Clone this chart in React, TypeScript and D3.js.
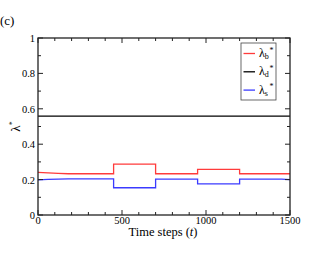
import { useEffect, useRef } from "react";
import * as d3 from "d3";

// step series
const timeB = [0, 60, 120, 180, 450, 450, 700, 700, 950, 950, 1200, 1200, 1500];
const lambdaB = [0.241, 0.238, 0.235, 0.233, 0.233, 0.287, 0.287, 0.233, 0.233, 0.258, 0.258, 0.233, 0.233];

const timeD = [0, 1500];
const lambdaD = [0.559, 0.559];

const timeS = [0, 60, 120, 180, 450, 450, 700, 700, 950, 950, 1200, 1200, 1450, 1500];
const lambdaS = [0.198, 0.201, 0.203, 0.204, 0.204, 0.154, 0.154, 0.203, 0.203, 0.176, 0.176, 0.203, 0.203, 0.2];

const xMajor = [0, 500, 1000, 1500];
const yMajor = [0, 0.2, 0.4, 0.6, 0.8, 1];
const yLabels = ["0", "0.2", "0.4", "0.6", "0.8", "1"];

const legendSubs = ["b", "d", "s"];
const seriesColors = ["#ff3b3b", "#000000", "#3b3bff"];

export default function App() {
  const ref = useRef<SVGSVGElement | null>(null);

  useEffect(() => {
    const svg = d3.select(ref.current);
    svg.selectAll("*").remove();
    const W = 329, H = 254;
    const m = { l: 38, r: 39, t: 38, b: 39 };
    svg.attr("viewBox", `0 0 ${W} ${H}`);

    const x = d3.scaleLinear().domain([0, 1500]).range([m.l, W - m.r]);
    const y = d3.scaleLinear().domain([0, 1]).range([H - m.b, m.t]);
    const font = "'Liberation Serif', 'Times New Roman', serif";

    svg.append("rect").attr("width", W).attr("height", H).attr("fill", "white");

    const series = [
      { t: timeB, v: lambdaB },
      { t: timeD, v: lambdaD },
      { t: timeS, v: lambdaS }
    ];
    const line = d3.line<[number, number]>().x(d => x(d[0])).y(d => y(d[1]));
    series.forEach((s, i) => {
      svg.append("path")
        .datum(s.t.map((t, j) => [t, s.v[j]] as [number, number]))
        .attr("d", line)
        .attr("fill", "none")
        .attr("stroke", seriesColors[i])
        .attr("stroke-width", 1.3);
    });

    // frame
    const frameColor = "#222";
    svg.append("rect")
      .attr("x", x(0)).attr("y", y(1))
      .attr("width", x(1500) - x(0)).attr("height", y(0) - y(1))
      .attr("fill", "none").attr("stroke", frameColor).attr("stroke-width", 1.3);

    // ticks, inward, on all four sides
    const xMinor = d3.range(0, 1501, 100);
    const yMinor = d3.range(0, 1.001, 0.1);
    const tk = svg.append("g").attr("stroke", frameColor).attr("stroke-width", 1);
    xMinor.forEach(v => {
      const len = xMajor.includes(v) ? 5 : 3;
      tk.append("line").attr("x1", x(v)).attr("x2", x(v)).attr("y1", y(0)).attr("y2", y(0) - len);
      tk.append("line").attr("x1", x(v)).attr("x2", x(v)).attr("y1", y(1)).attr("y2", y(1) + len);
    });
    yMinor.forEach(v => {
      const major = Math.abs(v * 5 - Math.round(v * 5)) < 1e-6;
      const len = major ? 5 : 3;
      tk.append("line").attr("x1", x(0)).attr("x2", x(0) + len).attr("y1", y(v)).attr("y2", y(v));
      tk.append("line").attr("x1", x(1500)).attr("x2", x(1500) - len).attr("y1", y(v)).attr("y2", y(v));
    });

    const tl = svg.append("g").attr("font-family", font).attr("font-size", 10.5).attr("fill", "#000");
    xMajor.forEach(v => {
      tl.append("text").attr("x", x(v)).attr("y", y(0) + 8.5).attr("text-anchor", "middle").text(String(v));
    });
    yMajor.forEach((v, i) => {
      tl.append("text").attr("x", x(0) - 3).attr("y", y(v) + 4).attr("text-anchor", "end").text(yLabels[i]);
    });

    // axis titles
    const xt = svg.append("text")
      .attr("x", (x(0) + x(1500)) / 2 - 1).attr("y", 236)
      .attr("text-anchor", "middle")
      .attr("font-family", font).attr("font-size", 12.5);
    xt.append("tspan").text("Time steps (");
    xt.append("tspan").attr("font-style", "italic").text("t");
    xt.append("tspan").text(")");

    const yt = svg.append("text")
      .attr("transform", `translate(20,${(y(0) + y(1)) / 2}) rotate(-90)`)
      .attr("text-anchor", "middle")
      .attr("font-family", font).attr("font-size", 13);
    yt.append("tspan").text("λ");
    yt.append("tspan").attr("font-size", 8).attr("dy", -5).text("*");

    svg.append("text").attr("x", 0).attr("y", 25)
      .attr("font-family", font).attr("font-size", 13).text("(c)");

    // legend
    const lg = svg.append("g").attr("font-family", font);
    lg.append("rect").attr("x", 241).attr("y", 43).attr("width", 35).attr("height", 57)
      .attr("fill", "white").attr("stroke", "#444").attr("stroke-width", 0.8);
    legendSubs.forEach((s, i) => {
      const ly = 53.5 + i * 18.3;
      lg.append("line").attr("x1", 243.5).attr("x2", 255).attr("y1", ly).attr("y2", ly)
        .attr("stroke", seriesColors[i]).attr("stroke-width", 1.3);
      const t = lg.append("text").attr("x", 259).attr("y", ly + 3.5).attr("font-size", 12);
      t.append("tspan").text("λ");
      t.append("tspan").attr("font-size", 8).attr("dy", 2).text(s);
      lg.append("text").attr("x", 269.5).attr("y", ly - 1).attr("font-size", 8).text("*");
    });
  }, []);

  return <svg ref={ref} width={329} height={254} style={{ position: "absolute", left: 0, top: 0 }} />;
}
